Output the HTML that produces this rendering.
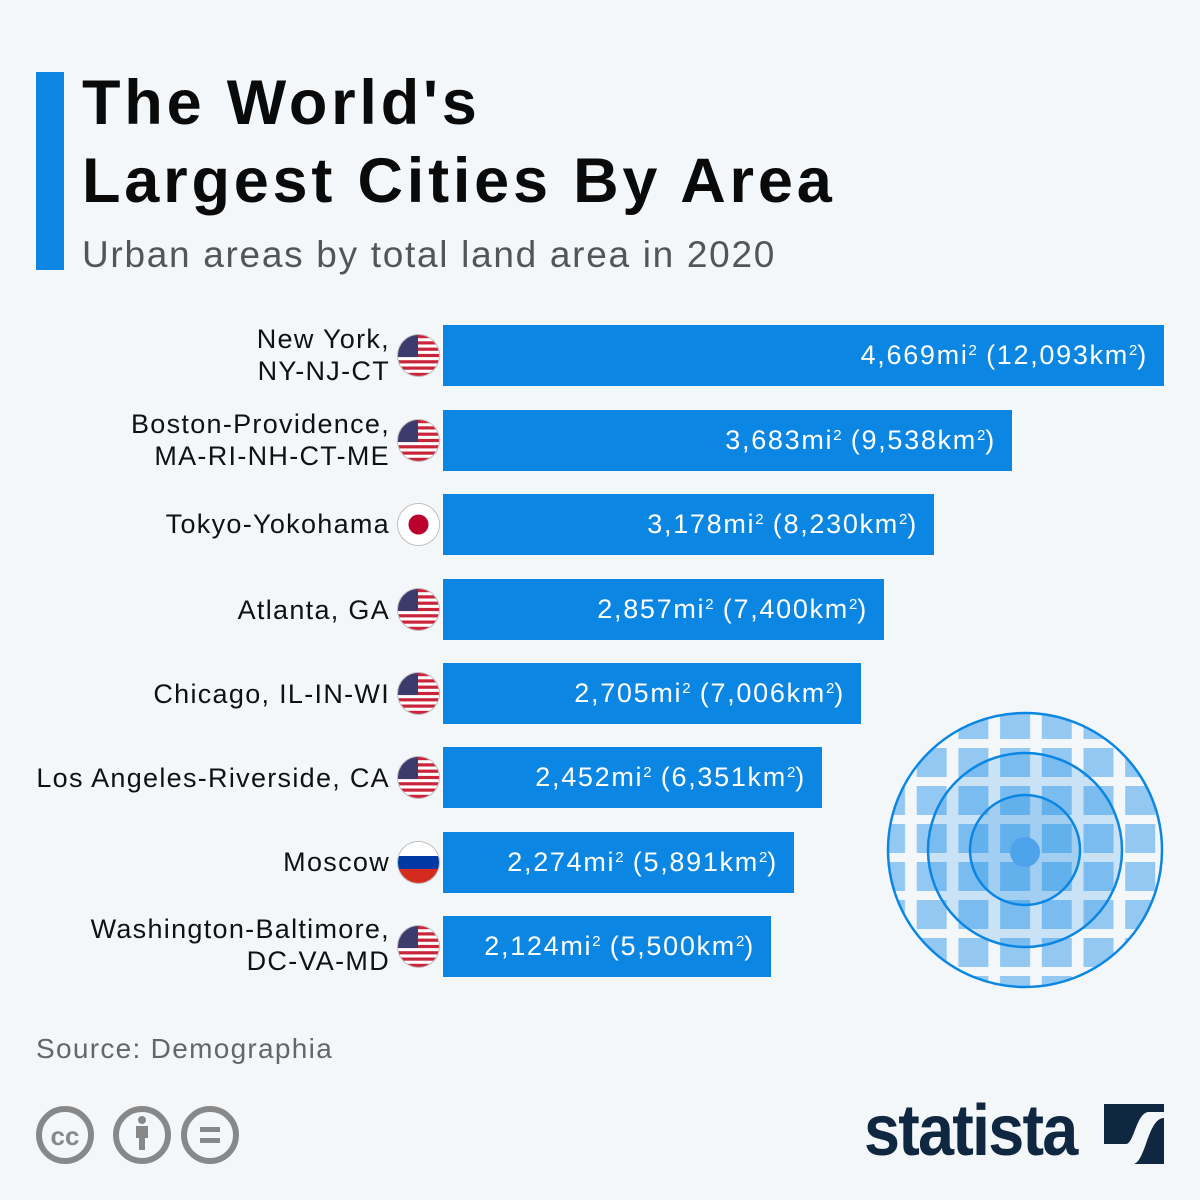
<!DOCTYPE html>
<html><head><meta charset="utf-8"><style>
body{margin:0;width:1200px;height:1200px;background:#f3f7fa;font-family:"Liberation Sans","DejaVu Sans",sans-serif;position:relative;overflow:hidden}
.a{position:absolute}
.bar{position:absolute;left:443px;height:61px;background:#0c86e3;color:#fff;font-size:27px;letter-spacing:1.7px;text-align:right;box-sizing:border-box;padding-right:16px;line-height:61px}
.lab{position:absolute;right:810px;text-align:right;font-size:27px;letter-spacing:1.3px;color:#111;line-height:32px}
.flag{position:absolute;left:398px;width:41px;height:41px;border-radius:50%;overflow:hidden;box-shadow:0 0 0 1px #bbb}
sup{font-size:15px;vertical-align:9px;line-height:0;letter-spacing:0}
</style></head><body>
<div class="a" style="left:36px;top:72px;width:28px;height:198px;background:#0c86e3"></div>
<div class="a" style="left:82px;top:64px;font-size:63px;font-weight:bold;line-height:78px;color:#0a0a0a;letter-spacing:3.8px">The World's<br>Largest Cities By Area</div>
<div class="a" style="left:82px;top:234px;font-size:37px;color:#555;letter-spacing:1.7px">Urban areas by total land area in 2020</div>

<svg width="0" height="0" style="position:absolute"><defs>
<g id="us"><rect width="41" height="41" fill="#fff"/><g fill="#c9243a"><rect y="0" width="41" height="3.2"/><rect y="6.3" width="41" height="3.2"/><rect y="12.6" width="41" height="3.2"/><rect y="18.9" width="41" height="3.2"/><rect y="25.2" width="41" height="3.2"/><rect y="31.5" width="41" height="3.2"/><rect y="37.8" width="41" height="3.2"/></g><rect width="20" height="22" fill="#3c3b6e"/></g>
</defs></svg>

<div class="lab" style="top:323px">New York,<br>NY-NJ-CT</div>
<div class="lab" style="top:408px">Boston-Providence,<br>MA-RI-NH-CT-ME</div>
<div class="lab" style="top:508px">Tokyo-Yokohama</div>
<div class="lab" style="top:594px">Atlanta, GA</div>
<div class="lab" style="top:678px">Chicago, IL-IN-WI</div>
<div class="lab" style="top:762px">Los Angeles-Riverside, CA</div>
<div class="lab" style="top:846px">Moscow</div>
<div class="lab" style="top:913px">Washington-Baltimore,<br>DC-VA-MD</div>

<svg class="flag" style="top:335px" viewBox="0 0 41 41"><use href="#us"/></svg>
<svg class="flag" style="top:420px" viewBox="0 0 41 41"><use href="#us"/></svg>
<svg class="flag" style="top:504px" viewBox="0 0 41 41"><rect width="41" height="41" fill="#fff"/><circle cx="20.5" cy="20.5" r="10" fill="#bc002d"/></svg>
<svg class="flag" style="top:589px" viewBox="0 0 41 41"><use href="#us"/></svg>
<svg class="flag" style="top:673px" viewBox="0 0 41 41"><use href="#us"/></svg>
<svg class="flag" style="top:757px" viewBox="0 0 41 41"><use href="#us"/></svg>
<svg class="flag" style="top:842px" viewBox="0 0 41 41"><rect width="41" height="14" fill="#fff"/><rect y="14" width="41" height="14" fill="#0039a6"/><rect y="27" width="41" height="14" fill="#d52b1e"/></svg>
<svg class="flag" style="top:926px" viewBox="0 0 41 41"><use href="#us"/></svg>

<div class="bar" style="top:325px;width:721px">4,669mi<sup>2</sup> (12,093km<sup>2</sup>)</div>
<div class="bar" style="top:410px;width:569px">3,683mi<sup>2</sup> (9,538km<sup>2</sup>)</div>
<div class="bar" style="top:494px;width:491px">3,178mi<sup>2</sup> (8,230km<sup>2</sup>)</div>
<div class="bar" style="top:579px;width:441px">2,857mi<sup>2</sup> (7,400km<sup>2</sup>)</div>
<div class="bar" style="top:663px;width:418px">2,705mi<sup>2</sup> (7,006km<sup>2</sup>)</div>
<div class="bar" style="top:747px;width:379px">2,452mi<sup>2</sup> (6,351km<sup>2</sup>)</div>
<div class="bar" style="top:832px;width:351px">2,274mi<sup>2</sup> (5,891km<sup>2</sup>)</div>
<div class="bar" style="top:916px;width:328px">2,124mi<sup>2</sup> (5,500km<sup>2</sup>)</div>

<svg class="a" style="left:870px;top:700px" width="310" height="300" viewBox="0 0 310 300">
<defs><clipPath id="c"><circle cx="155" cy="150" r="137"/></clipPath>
<pattern id="g" x="5" y="10" width="41.7" height="38" patternUnits="userSpaceOnUse"><rect width="30" height="29" fill="#93c8f2"/></pattern></defs>
<g clip-path="url(#c)">
<rect width="310" height="300" fill="url(#g)"/>
<circle cx="155" cy="150" r="97" fill="#0c86e3" opacity="0.18"/>
<circle cx="155" cy="150" r="55" fill="#0c86e3" opacity="0.2"/>
</g>
<circle cx="155" cy="150" r="137" fill="none" stroke="#0c86e3" stroke-width="2.5"/>
<circle cx="155" cy="150" r="97" fill="none" stroke="#0c86e3" stroke-width="2.5"/>
<circle cx="155" cy="150" r="55" fill="none" stroke="#0c86e3" stroke-width="2.5"/>
<circle cx="155" cy="152" r="15" fill="#4ea4ea"/>
</svg>

<div class="a" style="left:36px;top:1033px;font-size:28px;color:#666;letter-spacing:1.3px">Source: Demographia</div>
<svg class="a" style="left:34px;top:1104px" width="210" height="62">
<g fill="none" stroke="#888" stroke-width="6"><circle cx="31" cy="31" r="26"/><circle cx="108" cy="31" r="26"/><circle cx="176" cy="31" r="26"/></g>
<text x="31" y="41" font-size="26" font-weight="bold" fill="#888" text-anchor="middle" font-family="Liberation Sans">cc</text>
<circle cx="108" cy="16" r="4" fill="#888"/><rect x="102" y="22" width="12" height="12" fill="#888"/><rect x="105" y="30" width="6" height="16" fill="#888"/>
<rect x="166" y="23" width="20" height="5" fill="#888"/><rect x="166" y="34" width="20" height="5" fill="#888"/>
</svg>
<div class="a" style="left:864px;top:1090px;font-size:72px;font-weight:bold;color:#0f2740;letter-spacing:-2px;transform:scaleX(0.9);transform-origin:left">statista</div>
<svg class="a" style="left:1104px;top:1104px" width="60" height="60"><rect width="60" height="60" fill="#0f2740"/><path d="M0 40 L22 40 C30 40 32 10 44 8 L60 8 L60 0 L60 14 C44 14 42 56 30 60 L0 60Z" fill="#f3f7fa"/></svg>
</body></html>
